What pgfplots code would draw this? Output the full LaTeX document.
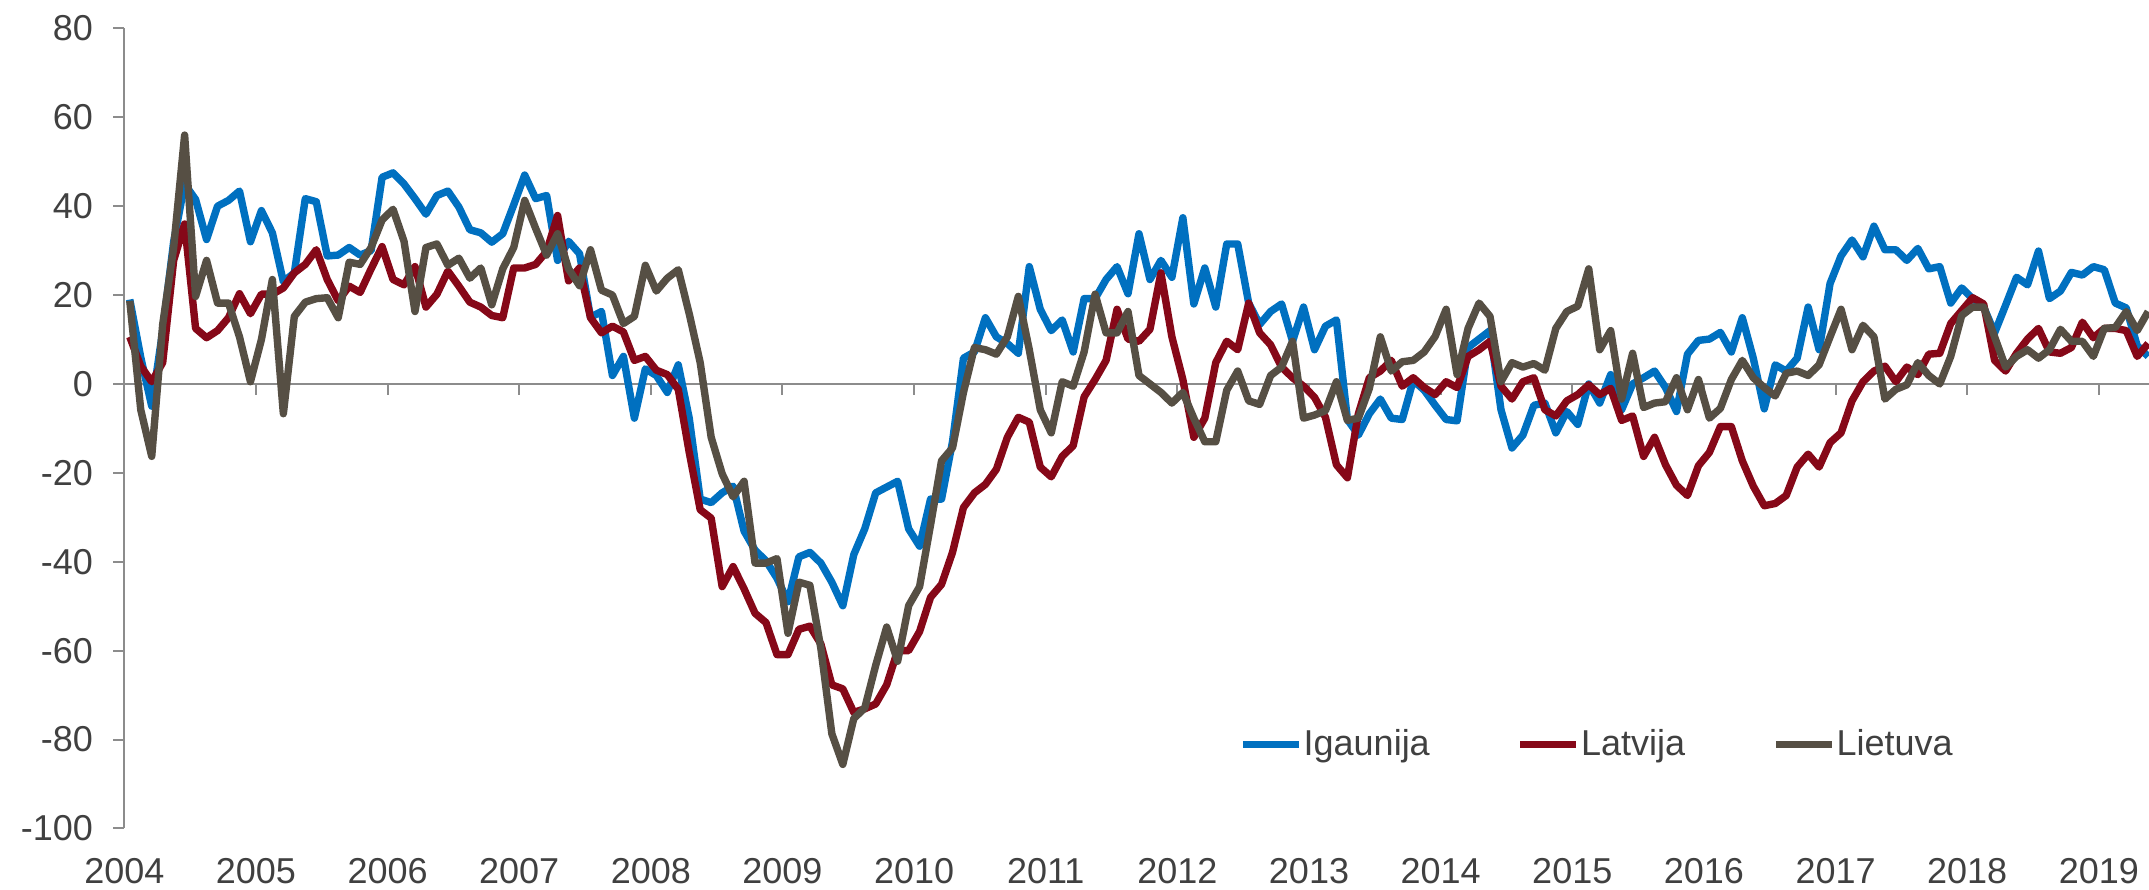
\documentclass[border=0pt]{standalone}
\usepackage{pgfplots}
\pgfplotsset{compat=1.18}
\usepackage{pgfplotstable}
\usepackage{fontspec}
\setmainfont{Liberation Sans}
\definecolor{cblue}{RGB}{0,112,192}
\definecolor{cred}{RGB}{134,8,24}
\definecolor{cgray}{RGB}{86,79,68}
\definecolor{axisgray}{RGB}{140,140,140}
\definecolor{textgray}{RGB}{64,64,64}
\pgfplotstableread{
x ig la li
0.5 19 10.6 18.7
1.5 6 4 -5.8
2.5 -5 0.5 -16.3
3.5 12 4.8 13.4
4.5 32 27.8 30.7
5.5 45 36 56
6.5 41.5 12.5 19.7
7.5 32.5 10.4 27.8
8.5 40 12 18.2
9.5 41.3 14.9 18.2
10.5 43.4 20.3 10.6
11.5 32 15.8 0.5
12.5 39 20.2 10
13.5 34 20.2 23.5
14.5 23 21.6 -6.7
15.5 25 25 15.2
16.5 41.7 26.9 18.4
17.5 41 30.2 19.2
18.5 28.8 23.5 19.4
19.5 29 18.7 14.9
20.5 30.7 22 27.4
21.5 29 20.6 26.9
22.5 30 25.9 30.7
23.5 46.5 30.9 36.9
24.5 47.5 23.5 39.3
25.5 45 22.3 32.1
26.5 41.7 26.4 16.3
27.5 38.2 17.3 30.7
28.5 42.4 20.2 31.5
29.5 43.4 25.4 26.7
30.5 39.8 22 28.3
31.5 34.7 18.4 23.8
32.5 34 17.3 26.1
33.5 31.9 15.4 17.8
34.5 33.8 14.9 25.9
35.5 40.3 26.1 30.7
36.5 47 26.1 41.3
37.5 41.7 26.9 35
38.5 42.4 29.8 29
39.5 27.8 37.9 33.8
40.5 32.1 23.2 25.9
41.5 29.3 26.1 22.1
42.5 15 14.9 30.2
43.5 16.3 11.5 21.1
44.5 1.9 13 20
45.5 6.2 11.7 13.6
46.5 -7.7 5.3 15.2
47.5 3.4 6.2 26.7
48.5 1.9 3.1 20.9
49.5 -1.9 2.1 23.8
50.5 4.3 -1.2 25.7
51.5 -7.7 -15.4 15.8
52.5 -25.9 -28.3 4.8
53.5 -26.7 -30.2 -12
54.5 -24.5 -45.6 -20.2
55.5 -23 -41.1 -25.4
56.5 -33.1 -46.1 -21.9
57.5 -37.4 -51.6 -40.3
58.5 -39.8 -53.7 -40.3
59.5 -43.7 -60.9 -39.3
60.5 -49 -60.9 -56.1
61.5 -38.9 -55.2 -44.6
62.5 -37.9 -54.5 -45.3
63.5 -40.3 -58.5 -59.5
64.5 -44.6 -67.7 -78.7
65.5 -49.9 -68.6 -85.6
66.5 -38.4 -73.9 -75.3
67.5 -32.6 -73.1 -72.9
68.5 -24.5 -72 -63.3
69.5 -23.2 -67.7 -54.7
70.5 -21.9 -60 -62.4
71.5 -32.6 -60 -49.9
72.5 -36.5 -55.7 -45.6
73.5 -25.9 -48 -31.7
74.5 -25.9 -45.1 -17.3
75.5 -13 -37.9 -14.4
76.5 5.8 -27.8 -1.9
77.5 7.2 -24.5 8.2
78.5 14.9 -22.6 7.7
79.5 10.6 -19.2 6.7
80.5 9.1 -12 10.6
81.5 6.9 -7.5 19.7
82.5 26.4 -8.6 7.7
83.5 16.8 -18.7 -5.8
84.5 12 -20.9 -11
85.5 14.4 -16.3 0.5
86.5 7.2 -13.9 -0.5
87.5 19.2 -2.9 7.2
88.5 19.2 1 20.2
89.5 23.5 5.3 11.5
90.5 26.4 16.8 11.5
91.5 20.3 10.1 16.3
92.5 33.8 9.6 1.9
93.5 23.5 12.3 0
94.5 27.8 25 -1.9
95.5 24 10.6 -4.3
96.5 37.4 1 -1.9
97.5 18 -12 -7.7
98.5 26.1 -7.7 -13
99.5 17.3 4.8 -13
100.5 31.5 9.6 -1.4
101.5 31.5 7.7 2.9
102.5 18.2 18.2 -3.8
103.5 13.4 11.5 -4.6
104.5 16.3 8.8 1.9
105.5 18 3.8 3.8
106.5 9.6 1.4 9.6
107.5 17.3 -0.5 -7.7
108.5 7.7 -3 -7
109.5 13 -7.5 -6
110.5 14.4 -18.2 0.5
111.5 -8 -21.1 -8.2
112.5 -11.5 -6.7 -7.7
113.5 -6.7 1.4 -1
114.5 -3.4 2.9 10.6
115.5 -7.7 5.3 2.9
116.5 -8 -0.5 5
117.5 0.8 1.4 5.3
118.5 -1.4 -0.8 7.2
119.5 -4.8 -2.4 10.7
120.5 -8 0.5 16.8
121.5 -8.3 -0.8 2.1
122.5 8.2 6.2 12.5
123.5 10.1 7.7 18.2
124.5 12 9.6 15.2
125.5 -5.8 -0.5 0.5
126.5 -14.4 -3.4 4.8
127.5 -11.5 0.5 3.8
128.5 -4.8 1.4 4.6
129.5 -4.3 -5.8 3.1
130.5 -11 -7.2 12.5
131.5 -6.2 -3.8 16.3
132.5 -9.1 -2.4 17.5
133.5 0 -0.2 25.9
134.5 -4.3 -2.4 7.7
135.5 2.1 -1 12
136.5 -5.8 -8.2 -3.4
137.5 0 -7.2 6.9
138.5 1.4 -16.3 -5.3
139.5 2.9 -12 -4.3
140.5 -0.8 -18.2 -4
141.5 -6.2 -22.8 1.4
142.5 6.7 -25.1 -5.8
143.5 9.8 -18.4 1
144.5 10.1 -15.4 -7.7
145.5 11.6 -9.6 -5.5
146.5 7.2 -9.6 1
147.5 14.9 -17.3 5.3
148.5 5.8 -23 1.4
149.5 -5.6 -27.4 -0.8
150.5 4.3 -26.9 -2.7
151.5 2.9 -25.1 2.4
152.5 5.8 -18.7 2.9
153.5 17.3 -15.8 1.9
154.5 7.7 -18.7 4.3
155.5 22.6 -13.2 10.6
156.5 28.8 -11 16.8
157.5 32.4 -3.8 7.7
158.5 28.6 0.5 13.2
159.5 35.5 2.9 10.6
160.5 30.2 4 -3.4
161.5 30.2 0.5 -1.2
162.5 27.8 3.8 -0.2
163.5 30.5 2.1 4.8
164.5 25.9 6.7 1.9
165.5 26.4 6.9 0
166.5 18.2 13.6 6.2
167.5 21.6 16.5 15.4
168.5 19.2 19.4 17.3
169.5 17.3 18 17.3
170.5 11.5 5.3 10.6
171.5 17.7 2.9 3.8
172.5 24 6.9 6.2
173.5 22.3 10.1 7.7
174.5 29.9 12.5 5.8
175.5 19.2 7.2 7.7
176.5 20.9 6.9 12.3
177.5 25.1 8.2 9.6
178.5 24.5 13.9 9.6
179.5 26.4 10.4 6.2
180.5 25.7 12.5 12.5
181.5 18.2 12.5 12.7
182.5 17.1 12 16.3
183.5 8.6 6.2 12
184.5 6.2 9.1 16.3
}\datatable
\begin{document}
\begin{tikzpicture}
\useasboundingbox (-62.15pt,-30.75pt) rectangle (1012.35pt,414.2pt);
\begin{axis}[
  at={(0pt,0pt)}, anchor=south west, scale only axis,
  width=1012.35pt, height=400pt,
  xmin=0, xmax=184.57, ymin=-100, ymax=80,
  axis x line=middle, axis y line=left,
  axis line style={-, draw=axisgray, line width=1pt},
  hide obscured x ticks=false, hide obscured y ticks=false,
  xtick={0,12,24,36,48,60,72,84,96,108,120,132,144,156,168,180},
  xticklabels={2004,2005,2006,2007,2008,2009,2010,2011,2012,2013,2014,2015,2016,2017,2018,2019},
  ytick={-100,-80,-60,-40,-20,0,20,40,60,80},
  yticklabels={-100,-80,-60,-40,-20,0,20,40,60,80},
  tick align=outside, major tick length=5.5pt,
  tick style={draw=axisgray, line width=1pt},
  every tick label/.append style={font=\fontsize{18}{21.6}\selectfont, text=textgray},
  xticklabel style={anchor=base, inner sep=0pt, yshift=-244.5pt},
  yticklabel style={anchor=east, inner sep=0pt, xshift=-10pt},
  clip=true,
  legend style={draw=none, fill=none, at={(0.5505,0.105)}, anchor=west,
    legend columns=3, inner sep=0pt,
    font=\fontsize{18}{21.6}\selectfont, text=textgray,
    /tikz/every even column/.append style={column sep=43pt},
    nodes={inner sep=0.5pt}},
  legend image code/.code={\draw[#1] (0pt,0pt) -- (28pt,0pt);},
  every axis plot/.append style={line width=3.7pt, line join=round},
]
\addplot[cblue, no markers] table[x=x, y=ig] {\datatable};
\addlegendentry{Igaunija}
\addplot[cred, no markers] table[x=x, y=la] {\datatable};
\addlegendentry{Latvija}
\addplot[cgray, no markers] table[x=x, y=li] {\datatable};
\addlegendentry{Lietuva}
\end{axis}
\end{tikzpicture}
\end{document}
